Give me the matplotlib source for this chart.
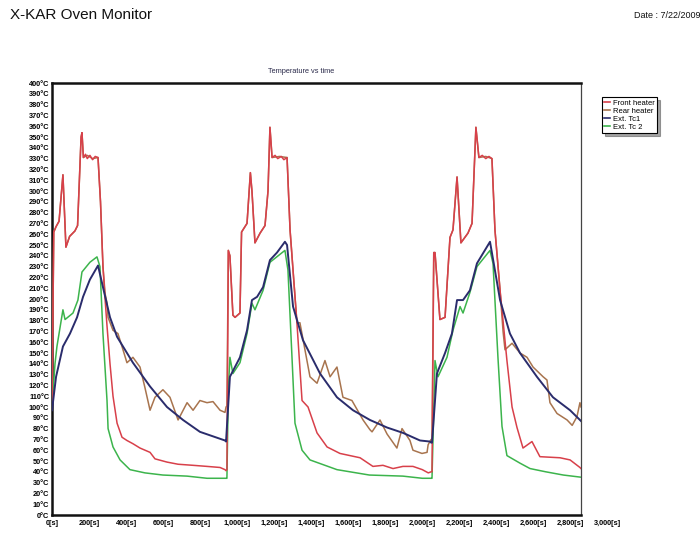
import matplotlib
matplotlib.use("Agg")
import matplotlib.pyplot as plt
from matplotlib.lines import Line2D

plt.rcParams['font.family'] = ['Liberation Sans', 'DejaVu Sans']

# ---------------- data (time in s, temperature in °C) ----------------
front_t = [0, 10, 23, 40, 62, 79, 100, 130, 145, 165, 170, 178, 190, 200, 215, 230, 245, 261,
           275, 289, 301, 312, 329, 346, 369, 397, 425, 459, 499, 556, 584, 652, 715, 800, 879, 953, 981, 987,
           992, 1000, 1009, 1026, 1038, 1066, 1075, 1106, 1125, 1134, 1151, 1180, 1208, 1225, 1236, 1248,
           1265, 1280, 1300, 1315, 1333, 1350, 1389, 1418, 1452, 1503, 1560, 1633, 1747, 1820, 1877, 1934, 1990,
           2047, 2100, 2134, 2150,
           2155, 2165, 2172, 2200, 2229, 2257, 2274, 2297, 2319, 2359, 2382, 2404, 2421, 2440, 2460, 2478, 2495,
           2512, 2541, 2580, 2609, 2637, 2671, 2722, 2767, 2881, 2938, 2994, 3000]
front_v = [100, 262, 267, 272, 315, 248, 258, 263, 268, 350, 354, 331, 334, 330, 333, 329, 332, 331,
           290, 230, 200, 175, 140, 110, 85, 72, 69, 66, 62, 58, 52, 49, 47, 46, 45, 44, 42, 41,
           42, 245, 240, 185, 183, 187, 262, 270, 317, 300, 252, 261, 268, 300, 359, 331,
           333, 330, 332, 329, 331, 264, 178, 106, 100, 76, 63, 57, 53, 45, 46, 43, 45,
           45, 42, 39, 40,
           40, 243, 243, 181, 183, 257, 264, 313, 252, 261, 270, 359, 331, 333, 330, 332, 330,
           264, 208, 143, 100, 81, 62, 68, 54, 53, 51, 44, 43]

rear_t = [0, 10, 23, 40, 62, 79, 100, 130, 145, 165, 170, 178, 200, 230, 261,
          275, 289, 301, 312, 318, 346, 374, 397, 425, 459, 499, 527, 556, 584, 629, 669, 715, 766, 800, 839,
          879, 913, 953, 981, 987,
          992, 1000, 1009, 1026, 1038, 1066, 1075, 1106, 1125, 1134, 1151, 1180, 1208, 1225, 1236, 1248,
          1290, 1333, 1350, 1389, 1406, 1463, 1503, 1548, 1577, 1616, 1650, 1701, 1764, 1803, 1815, 1860,
          1900, 1956, 1985, 2030, 2047, 2098, 2127, 2133, 2150,
          2155, 2165, 2172, 2200, 2229, 2257, 2274, 2297, 2319, 2359, 2382, 2404, 2421, 2460, 2495,
          2512, 2541, 2558, 2569, 2609, 2654, 2694, 2728, 2785, 2807, 2824, 2864, 2921, 2950, 2977, 2994, 3000]
rear_v = [100, 262, 267, 272, 315, 248, 258, 263, 268, 350, 354, 331, 333, 330, 331,
          290, 230, 205, 196, 183, 171, 168, 156, 141, 146, 137, 118, 97, 109, 116, 109, 88, 104, 97, 106,
          104, 105, 97, 95, 100,
          101, 245, 240, 185, 183, 187, 262, 270, 317, 300, 252, 261, 268, 300, 359, 331,
          332, 331, 264, 178, 178, 128, 122, 143, 128, 137, 109, 106, 88, 79, 77, 88,
          75, 62, 80, 69, 60, 57, 58, 65, 70,
          70, 243, 243, 181, 183, 257, 264, 313, 252, 261, 270, 359, 331, 332, 330,
          264, 208, 170, 153, 159, 150, 146, 137, 128, 125, 104, 94, 88, 83, 91, 104, 100]

tc1_t = [0, 23, 62, 102, 142, 176, 215, 261, 289, 329, 369, 459, 556, 652, 743, 839, 981, 987,
         1009, 1066, 1106, 1134, 1163, 1197, 1236, 1276, 1321, 1333, 1367, 1423, 1520, 1616, 1707, 1803,
         1900, 1991, 2087, 2144, 2150,
         2155, 2183, 2229, 2268, 2297, 2331, 2370, 2410, 2484, 2541, 2597, 2654, 2750, 2841, 2938, 2994, 3000]
tc1_v = [97, 128, 156, 168, 183, 202, 218, 231, 211, 183, 165, 141, 119, 100, 88, 77, 69, 68,
         128, 146, 171, 199, 202, 211, 236, 243, 253, 250, 193, 162, 131, 109, 97, 88,
         81, 76, 69, 68, 67,
         67, 131, 150, 168, 199, 199, 208, 233, 253, 199, 168, 150, 128, 109, 97, 88, 87]

tc2_t = [0, 17, 28, 62, 74, 119, 147, 170, 215, 255, 272, 289, 312, 318, 346, 386, 442, 527, 629, 766, 879, 981, 987,
         992, 1000, 1009, 1026, 1066, 1106, 1134, 1151, 1197, 1236, 1321, 1338, 1361, 1378, 1418, 1463, 1616,
         1800, 1990, 2100, 2150,
         2155, 2172, 2189, 2240, 2274, 2314, 2331, 2370, 2410, 2484, 2501, 2529, 2552, 2580, 2654, 2711, 2800,
         2900, 3000]
tc2_v = [100, 140, 156, 190, 181, 187, 199, 225, 234, 239, 230, 168, 106, 80, 63, 51, 42, 39, 37, 36, 34, 34, 34,
         34, 116, 146, 131, 141, 168, 196, 190, 208, 234, 245, 227, 146, 85, 60, 51, 42,
         37, 36, 34, 34,
         34, 143, 128, 146, 171, 193, 187, 206, 230, 245, 233, 146, 82, 55, 48, 43, 40,
         37, 35]

series_names = ["Front heater", "Rear heater", "Ext. Tc1", "Ext. Tc 2"]
series_colors = ["#d8404a", "#a8744e", "#2a2c6c", "#3cb44c"]

y_ticks = list(range(0, 401, 10))
x_tick_labels = ["0[s]", "200[s]", "400[s]", "600[s]", "800[s]", "1,000[s]", "1,200[s]", "1,400[s]",
                 "1,600[s]", "1,800[s]", "2,000[s]", "2,200[s]", "2,400[s]", "2,600[s]", "2,800[s]", "3,000[s]"]

# ---------------- figure ----------------
fig = plt.figure(figsize=(7.0, 5.35), dpi=100)
ax = fig.add_axes([52/700, 1 - 515/535, (581 - 52)/700, (515 - 83)/535])

ax.plot(rear_t, rear_v, color=series_colors[1], lw=1.1, zorder=3)
ax.plot(front_t, front_v, color=series_colors[0], lw=1.1, zorder=4)
ax.plot(tc2_t, tc2_v, color=series_colors[3], lw=1.1, zorder=3)
ax.plot(tc1_t, tc1_v, color=series_colors[2], lw=1.4, zorder=5)

ax.set_xlim(0, 3000)
ax.set_ylim(0, 400)
ax.set_yticks(y_ticks)
ax.set_yticklabels([f"{v}°C" for v in y_ticks], fontsize=5.3, fontweight='bold')
ax.tick_params(axis='y', length=0, pad=2)
ax.set_xticks([])
for i, lab in enumerate(x_tick_labels):
    ax.text(i * 37 / 529, -0.012, lab, transform=ax.transAxes, ha='center', va='top',
            fontsize=5.3, fontweight='bold', clip_on=False)

for s in ['left', 'bottom', 'top']:
    ax.spines[s].set_linewidth(1.8)
    ax.spines[s].set_color('#111111')
ax.spines['right'].set_linewidth(0.9)
ax.spines['right'].set_color('#444444')

ax.text(0.47, 1.018, "Temperature vs time", transform=ax.transAxes, ha='center', va='bottom',
        fontsize=5.3, color='#2a2a4a')

fig.text(10/700, 1 - 15/535, "X-KAR Oven Monitor", ha='left', va='center', fontsize=11, color='#111111')
fig.text(700/700, 1 - 15/535, "Date : 7/22/2009", ha='right', va='center', fontsize=6.5, color='#111111')

handles = [Line2D([0], [0], color=c, lw=1.2) for c in series_colors]
leg = fig.legend(handles, series_names, loc='upper left', bbox_to_anchor=(602/700, 1 - 97/535),
                 fontsize=5.5, frameon=True, shadow=True, fancybox=False, handlelength=0.8,
                 handletextpad=0.3, borderpad=0.3, labelspacing=0.1, borderaxespad=0)
leg.get_frame().set_edgecolor('black')
leg.get_frame().set_linewidth(0.8)

fig.savefig("out.png", dpi=100)
